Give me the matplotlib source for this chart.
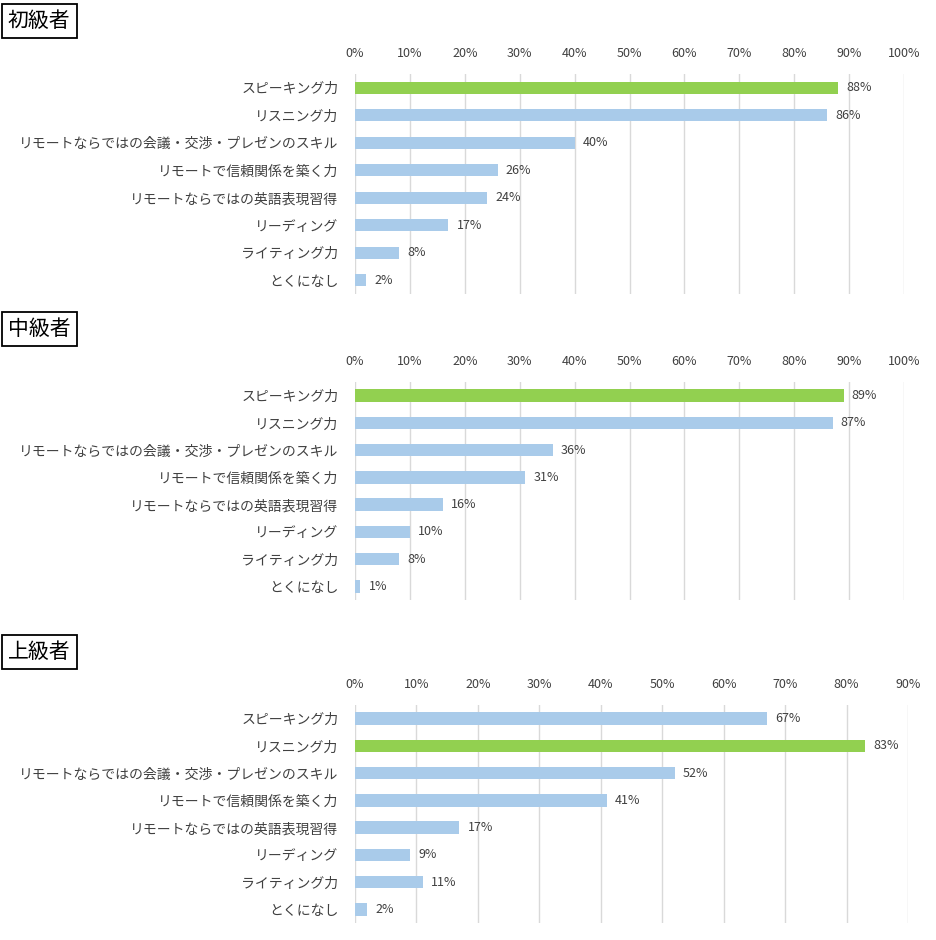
import matplotlib.pyplot as plt
from matplotlib.ticker import PercentFormatter

plt.rcParams['font.family'] = ['Noto Sans CJK JP', 'DejaVu Sans']

categories = ["スピーキング力", "リスニング力", "リモートならではの会議・交渉・プレゼンのスキル",
              "リモートで信頼関係を築く力", "リモートならではの英語表現習得", "リーディング",
              "ライティング力", "とくになし"]
titles = ["初級者", "中級者", "上級者"]
beginner = [88, 86, 40, 26, 24, 17, 8, 2]
intermediate = [89, 87, 36, 31, 16, 10, 8, 1]
advanced = [67, 83, 52, 41, 17, 9, 11, 2]
highlight = [0, 0, 1]
xmax = [100, 100, 90]

GREEN = "#92D050"
BLUE = "#A9CBEA"
W, H = 936, 940

fig = plt.figure(figsize=(W / 100, H / 100), dpi=100)

# pixel layout: (axes top, axes bottom, x at max, title box top)
layout = [(74, 294, 904, 4), (382, 600, 904, 312), (705, 923, 908, 635)]

for k, vals in enumerate([beginner, intermediate, advanced]):
    top, bot, xr, tt = layout[k]
    ax = fig.add_axes([355 / W, 1 - bot / H, (xr - 355) / W, (bot - top) / H])
    colors = [GREEN if i == highlight[k] else BLUE for i in range(len(vals))]
    ax.barh(range(len(vals)), vals, height=0.45, color=colors)
    ax.set_ylim(len(vals) - 0.5, -0.5)
    ax.set_xlim(0, xmax[k])
    ax.set_xticks(range(0, xmax[k] + 1, 10))
    ax.xaxis.set_major_formatter(PercentFormatter(decimals=0))
    ax.xaxis.tick_top()
    ax.tick_params(axis='x', length=0, pad=10, labelsize=9, colors="#404040")
    ax.tick_params(axis='y', length=0, pad=12, labelsize=10, colors="#404040")
    ax.set_yticks(range(len(vals)))
    ax.set_yticklabels(categories)
    ax.grid(axis='x', color="#D9D9D9", linewidth=1)
    ax.set_axisbelow(True)
    for s in ax.spines.values():
        s.set_visible(False)
    for i, v in enumerate(vals):
        ax.text(v + xmax[k] * 0.015, i, f"{v}%", va='center', fontsize=9, color="#404040")
    fig.text(8 / W, 1 - (tt + 17) / H, titles[k], fontsize=15, va='center', ha='left',
             bbox=dict(boxstyle='square,pad=0.3', facecolor='white', edgecolor='black', linewidth=1.3))

fig.savefig("out.png", dpi=100)
